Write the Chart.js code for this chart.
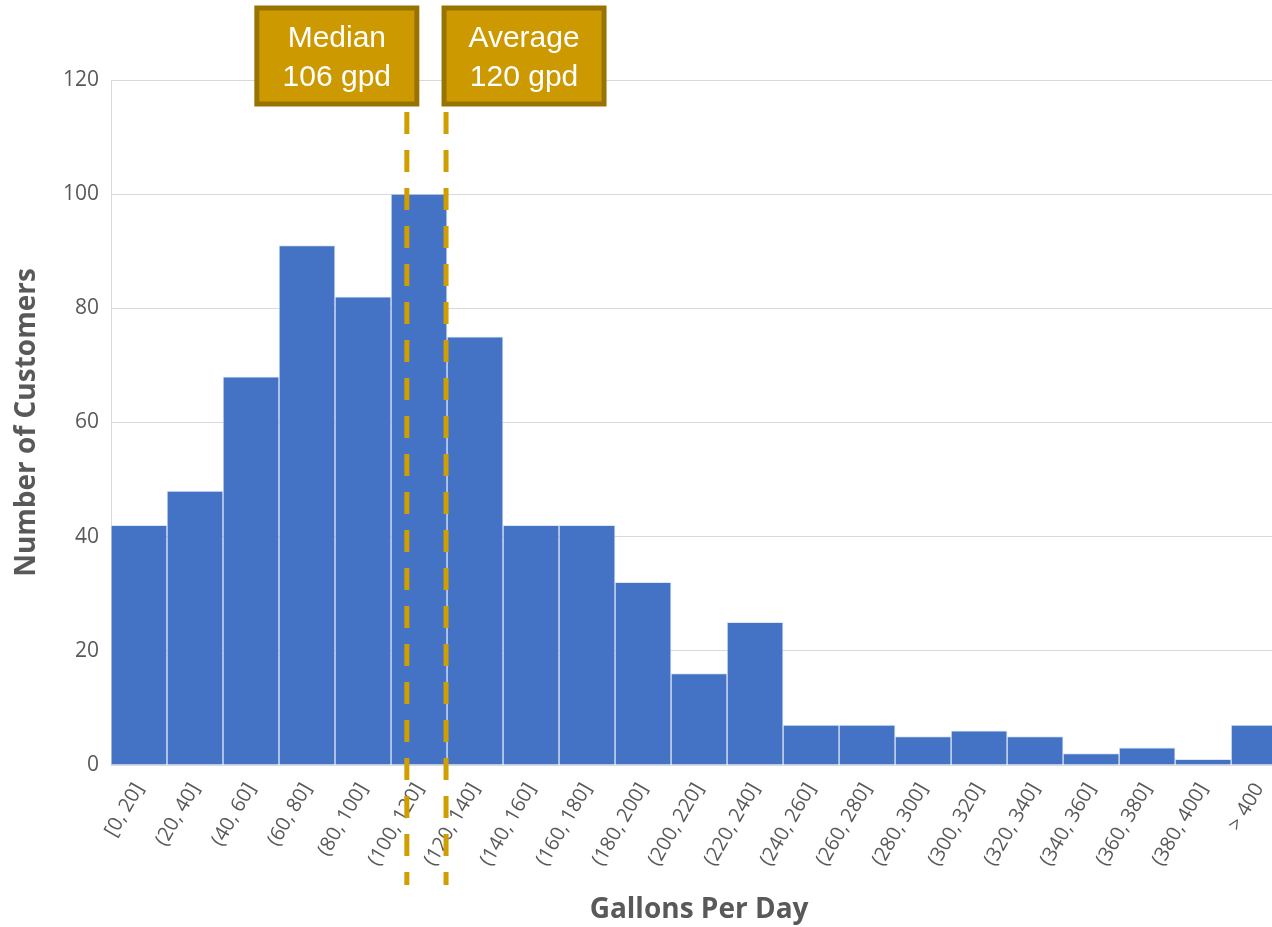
<!DOCTYPE html>
<html lang="en">
<head>
<meta charset="utf-8">
<title>Gallons Per Day histogram</title>
<script src="https://cdn.jsdelivr.net/npm/chart.js@4"></script>
<style>
  html, body { margin: 0; padding: 0; background: #fff; overflow: hidden; }
  #wrap { position: relative; width: 1294px; height: 927px; }
</style>
</head>
<body>
<div id="wrap"><canvas id="myChart"></canvas></div>
<script>
// bins of gallons per day
const bins = ['[0, 20]', '(20, 40]', '(40, 60]', '(60, 80]', '(80, 100]', '(100, 120]', '(120, 140]',
  '(140, 160]', '(160, 180]', '(180, 200]', '(200, 220]', '(220, 240]', '(240, 260]', '(260, 280]',
  '(280, 300]', '(300, 320]', '(320, 340]', '(340, 360]', '(360, 380]', '(380, 400]', '> 400'];
const customers = [42, 48, 68, 91, 82, 100, 75, 42, 42, 32, 16, 25, 7, 7, 5, 6, 5, 2, 3, 1, 7];
const binSize = 20;
const markers = [
  { name: 'Median', value: 106, side: 'left' },
  { name: 'Average', value: 120, side: 'right' }
];

const gray = '#595959';

// dashed lines + labelled boxes for median / average
const markerPlugin = {
  id: 'markers',
  afterDraw(chart) {
    const ctx = chart.ctx;
    const x = chart.scales.x;
    const step = x.getPixelForValue(1) - x.getPixelForValue(0);
    const start = x.getPixelForValue(0) - step / 2;
    markers.forEach(m => {
      const px = start + (m.value / binSize) * step - 1;
      ctx.save();
      ctx.strokeStyle = '#D19E00';
      ctx.lineWidth = 5;
      ctx.setLineDash([22, 16]);
      ctx.beginPath();
      ctx.moveTo(px, 112);
      ctx.lineTo(px, 885);
      ctx.stroke();
      ctx.setLineDash([]);

      const w = 160, h = 96, top = 8;
      const left = m.side === 'left' ? px - w + 10 : px - 2;
      ctx.fillStyle = '#CC9900';
      ctx.fillRect(left, top, w, h);
      ctx.strokeStyle = '#987300';
      ctx.lineWidth = 5;
      ctx.strokeRect(left, top, w, h);
      ctx.fillStyle = '#ffffff';
      ctx.font = '30px "Liberation Sans", Arial, sans-serif';
      ctx.textAlign = 'center';
      ctx.textBaseline = 'middle';
      ctx.fillText(m.name, left + w / 2, top + 31);
      ctx.fillText(m.value + ' gpd', left + w / 2, top + 70);
      ctx.restore();
    });
  }
};

const ctx = document.getElementById('myChart').getContext('2d');
new Chart(ctx, {
  type: 'bar',
  data: {
    labels: bins,
    datasets: [{
      data: customers,
      backgroundColor: '#4472C4',
      borderColor: 'rgba(200,215,240,0.6)',
      borderWidth: 1,
      barPercentage: 1,
      categoryPercentage: 1
    }]
  },
  options: {
    responsive: true,
    maintainAspectRatio: false,
    animation: false,
    layout: { padding: { top: 80, right: 3, left: 0, bottom: 0 } },
    plugins: {
      legend: { display: false },
      tooltip: { enabled: false }
    },
    scales: {
      x: {
        grid: { display: false, drawTicks: false },
        border: { color: '#d9d9d9', width: 1 },
        ticks: {
          color: gray,
          font: { family: '"Open Sans", sans-serif', size: 20 },
          maxRotation: 60, minRotation: 60,
          autoSkip: false,
          padding: 14
        },
        title: {
          display: true,
          text: 'Gallons Per Day',
          color: gray,
          font: { family: '"Open Sans", sans-serif', size: 28, weight: 'bold' },
          padding: { top: 0, bottom: 0 }
        },
        afterFit(scale) { scale.height = 162; }
      },
      y: {
        min: 0, max: 120,
        grid: { color: '#d9d9d9', drawTicks: false },
        border: { color: '#d9d9d9', width: 1 },
        ticks: {
          stepSize: 20,
          color: gray,
          font: { family: '"Open Sans", sans-serif', size: 21 },
          padding: 12
        },
        title: {
          display: true,
          text: 'Number of Customers',
          color: gray,
          font: { family: '"Open Sans", sans-serif', size: 28, weight: 'bold' },
          padding: { top: 10, bottom: 0 }
        },
        afterFit(scale) { scale.width = 111; }
      }
    }
  },
  plugins: [markerPlugin]
});
</script>
</body>
</html>
